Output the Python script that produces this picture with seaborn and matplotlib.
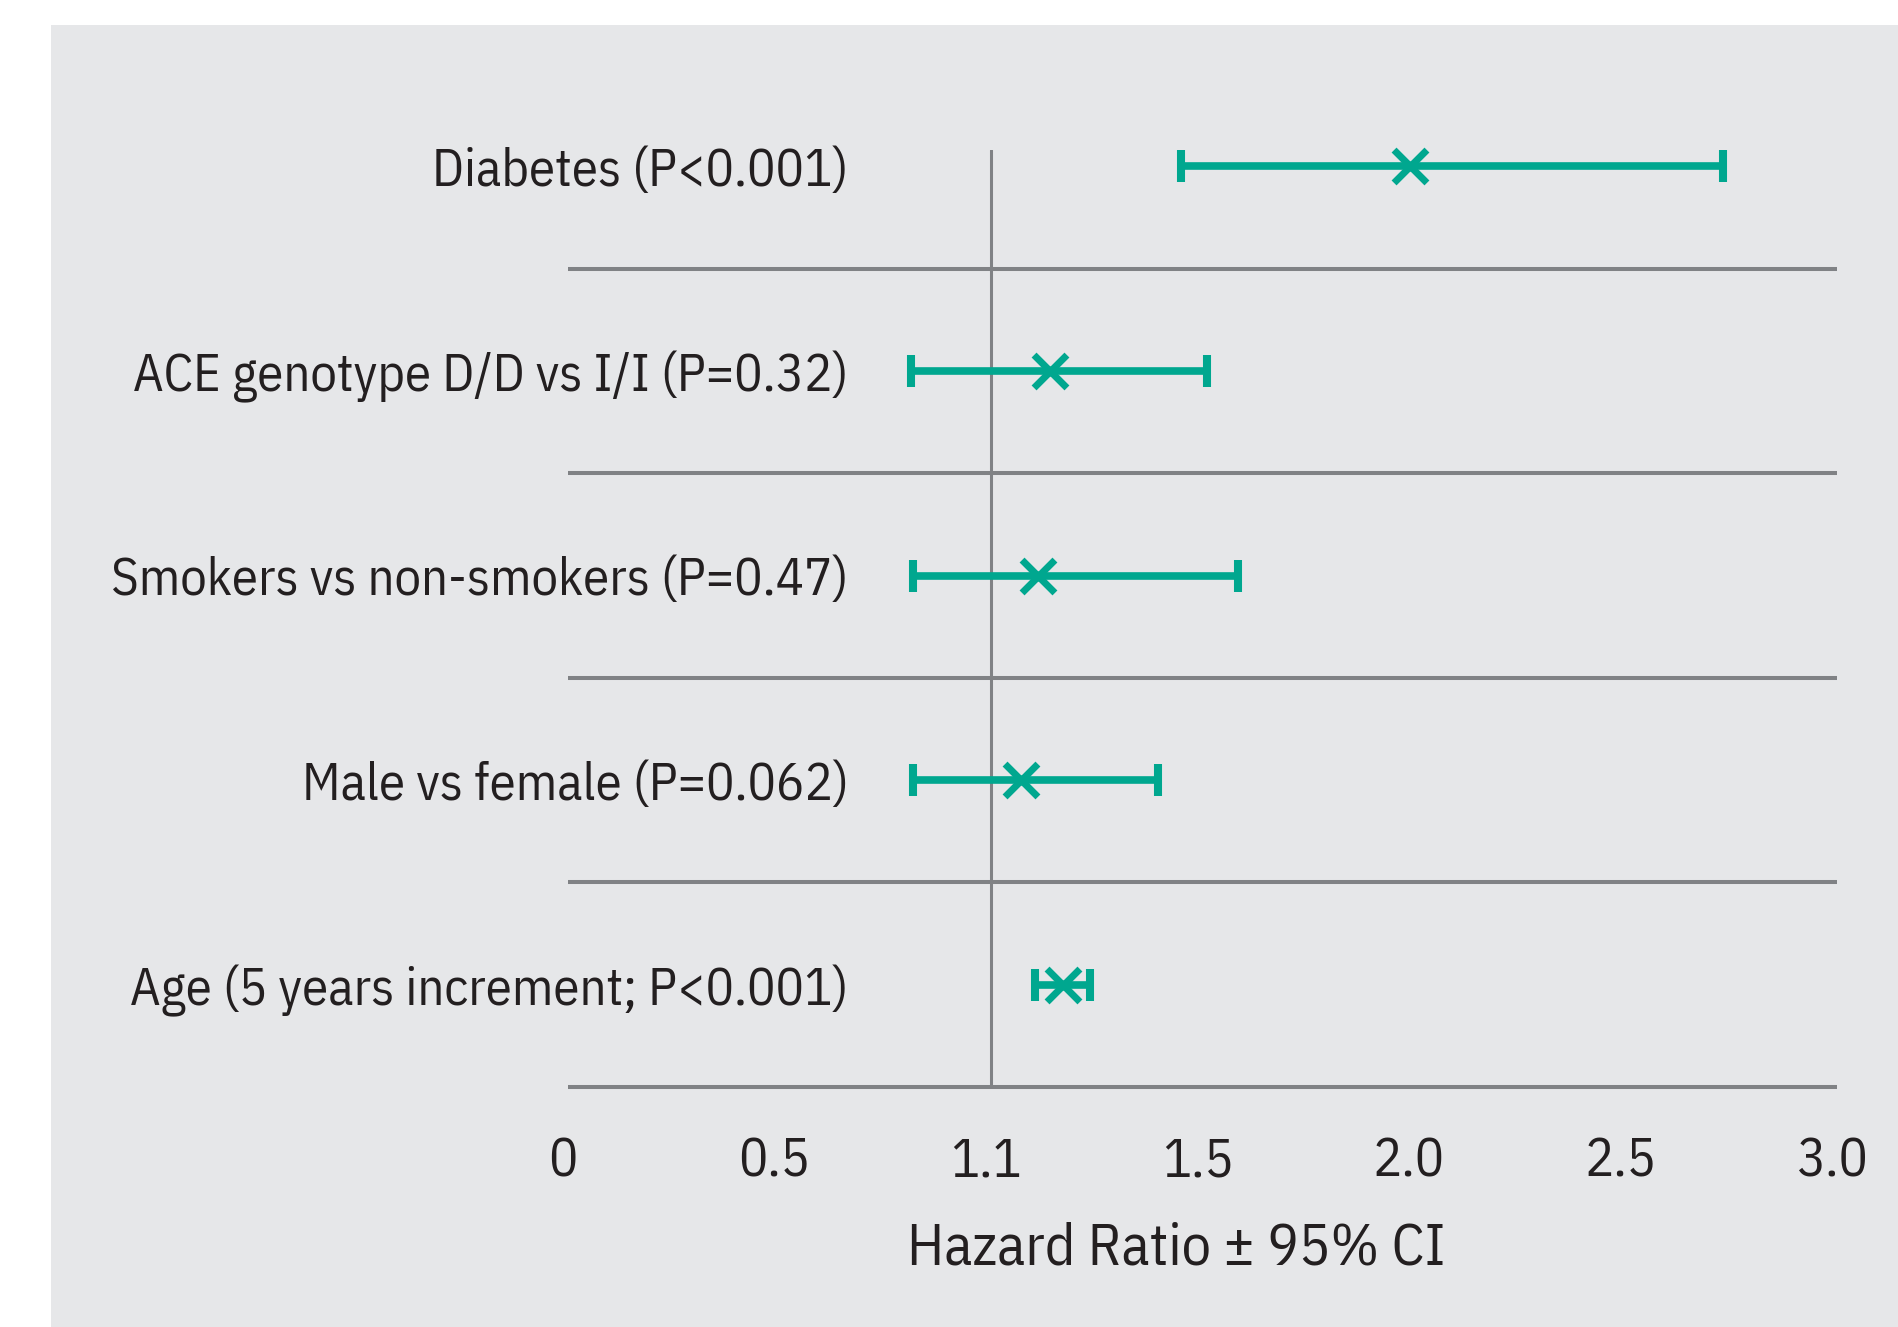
import numpy as np
import pandas as pd
import matplotlib
matplotlib.use("Agg")
import matplotlib.pyplot as plt
from matplotlib.patches import Rectangle
from matplotlib.transforms import ScaledTranslation
from matplotlib import font_manager
import seaborn as sns

# Hazard ratios with 95% confidence limits, top row first
labels = [
    "Diabetes (P<0.001)",
    "ACE genotype D/D vs I/I (P=0.32)",
    "Smokers vs non-smokers (P=0.47)",
    "Male vs female (P=0.062)",
    "Age (5 years increment; P<0.001)",
]
hazard_ratio = [1.99, 1.14, 1.11, 1.07, 1.17]
ci_low = [1.45, 0.81, 0.815, 0.815, 1.105]
ci_high = [2.73, 1.51, 1.585, 1.395, 1.235]

tick_values = [0, 0.5, 1.0, 1.5, 2.0, 2.5, 3.0]
tick_labels = ["0", "0.5", "1.1", "1.5", "2.0", "2.5", "3.0"]
reference_hr = 1.0
x_title = "Hazard Ratio \u00b1 95% CI"

TEAL = "#00a78f"
RULE = "#808285"
PANEL = "#e6e7e9"
INK = "#231f20"

sns.set_theme(style="white")
available = {f.name for f in font_manager.fontManager.ttflist}
family = next(f for f in ["IBM Plex Sans Condensed", "PT Sans Narrow", "Roboto"] if f in available)
plt.rcParams["font.family"] = [family, "DejaVu Sans"]

df = pd.DataFrame({
    "label": labels,
    "hr": hazard_ratio,
    "lo": ci_low,
    "hi": ci_high,
})
df["row"] = np.arange(len(df))

W, H = 1899, 1327
fig = plt.figure(figsize=(W / 100, H / 100), dpi=100, facecolor="white")

# grey panel behind the plot
panel = Rectangle((51 / W, 0), 1 - 51 / W, (H - 25) / H,
                  transform=fig.transFigure, facecolor=PANEL,
                  edgecolor="none", zorder=-10)
fig.add_artist(panel)

left, right, top, bottom = 568, 1837, 150, 1087
ax = fig.add_axes([left / W, (H - bottom) / H, (right - left) / W, (bottom - top) / H])
ax.set_zorder(5)
ax.set_facecolor("none")

ax.set_xlim(0, 3)
ax.set_ylim(len(df) - 0.5, -0.08)

# separators between rows and the reference line at HR = 1
ax.hlines(df["row"] + 0.5, 0, 3, color=RULE, linewidth=2.9, clip_on=False, zorder=1)
ax.axvline(reference_hr, color=RULE, linewidth=2.2, zorder=1)

# confidence intervals
ax.errorbar(df["hr"], df["row"],
            xerr=[df["hr"] - df["lo"], df["hi"] - df["hr"]],
            fmt="none", ecolor=TEAL, elinewidth=5.5, capsize=11.5, capthick=5.8,
            zorder=3, clip_on=False)

# point estimates
sns.scatterplot(data=df, x="hr", y="row", marker="x", s=560, color=TEAL,
                linewidth=5.0, ax=ax, zorder=4, clip_on=False, legend=False)

for s in ax.spines.values():
    s.set_visible(False)

ax.set_yticks(df["row"])
ax.set_yticklabels(df["label"], fontsize=38, color=INK)
ax.tick_params(axis="y", length=0, pad=-202)

ax.set_xticks(tick_values)
ax.set_xticklabels(tick_labels, fontsize=39, color=INK)
ax.tick_params(axis="x", length=0, pad=35)
nudge = ScaledTranslation(-5 / 100, 0, fig.dpi_scale_trans)
for lbl in ax.get_xticklabels():
    lbl.set_transform(lbl.get_transform() + nudge)

ax.set_xlabel(x_title, fontsize=42, color=INK, va="center")
ax.xaxis.set_label_coords((1176.5 - left) / (right - left), -(1249 - bottom) / (bottom - top))
ax.set_ylabel("")

fig.savefig("out.png", dpi=100, facecolor="white")
